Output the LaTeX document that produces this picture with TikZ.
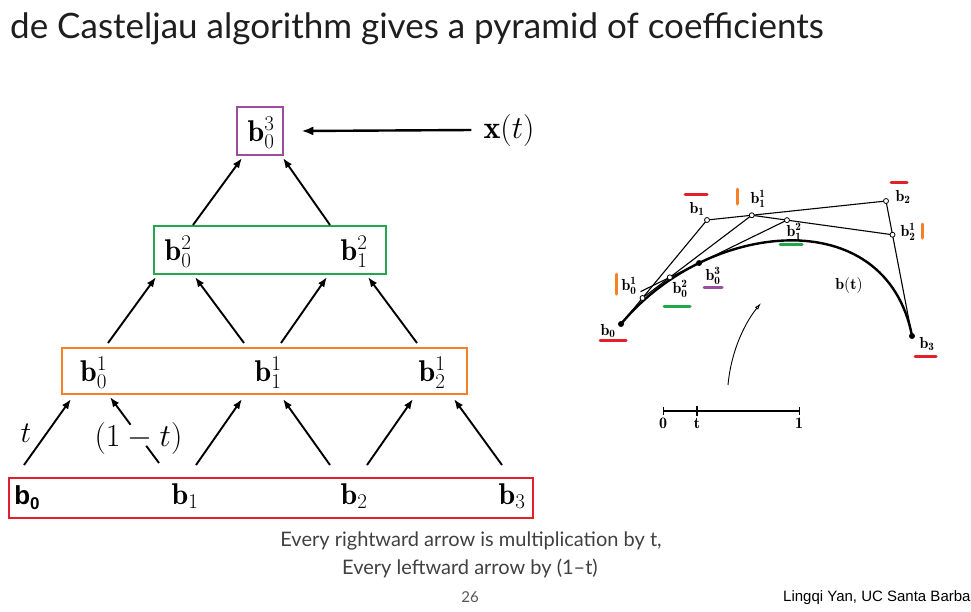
\RequirePackage{fix-cm}
\documentclass[tikz,border=0pt]{standalone}
\usepackage{fontspec}
\usetikzlibrary{arrows.meta,calc}
\newfontfamily\slidefont{Lato}
\newfontfamily\arialfont{Liberation Sans}
\definecolor{cpurple}{HTML}{9B4D9E}
\definecolor{cgreen}{HTML}{22A84A}
\definecolor{corange}{HTML}{F58025}
\definecolor{cred}{HTML}{E3202A}
\definecolor{slidetext}{HTML}{1E1E1E}
\tikzset{
  rowbox/.style={line width=2.6pt, inner sep=0pt},
  mlabel/.style={inner sep=0pt, font=\fontsize{30}{36}\selectfont},
  parrow/.style={line width=1.9pt, -{Latex[length=10pt,width=7.5pt]}},
  pline/.style={line width=1.9pt},
  opt/.style={circle, draw, fill=white, inner sep=0pt, minimum size=5pt, line width=0.8pt},
  fpt/.style={circle, fill=black, inner sep=0pt, minimum size=6pt},
  slab/.style={inner sep=0pt, font=\fontsize{16}{18}\selectfont},
  colmark/.style={line width=3pt, line cap=round},
  poly/.style={line width=1.1pt},
}
\begin{document}
\begin{tikzpicture}[x=1pt,y=-1pt]
\useasboundingbox (0,0) rectangle (971,611);

% title
\node[anchor=west, inner sep=0pt, text=slidetext, font=\slidefont\fontsize{35}{42}\selectfont] (title) at (10,29) {de Casteljau algorithm gives a pyramid of coefficients};

% ---------- pyramid boxes ----------
\node[rowbox, draw=cpurple, minimum width=46pt, minimum height=48pt] (P) at (260,131) {};
\node[rowbox, draw=cgreen, minimum width=232pt, minimum height=48pt] (G) at (270,250) {};
\node[rowbox, draw=corange, minimum width=405pt, minimum height=46pt] (O) at (264.5,371) {};
\node[rowbox, draw=cred, minimum width=524pt, minimum height=40pt] (R) at (271,498) {};

% labels
\node[mlabel] (n03) at (261,133) {$\mathbf{b}_0^3$};
\node[mlabel] (n02) at (178,252) {$\mathbf{b}_0^2$};
\node[mlabel] (n12) at (354,252) {$\mathbf{b}_1^2$};
\node[mlabel] (n01) at (93.5,373) {$\mathbf{b}_0^1$};
\node[mlabel] (n11) at (268,373) {$\mathbf{b}_1^1$};
\node[mlabel] (n21) at (432,373) {$\mathbf{b}_2^1$};
\node[inner sep=0pt, font=\arialfont\bfseries\fontsize{26}{30}\selectfont] (n0) at (27,498) {b\raisebox{-5pt}{\fontsize{17}{20}\selectfont 0}};
\node[mlabel] (n1) at (185,496) {$\mathbf{b}_1$};
\node[mlabel] (n2) at (354,496) {$\mathbf{b}_2$};
\node[mlabel] (n3) at (512,496) {$\mathbf{b}_3$};

\node[mlabel, font=\fontsize{32}{38}\selectfont] (xt) at (509,130) {$\mathbf{x}(t)$};
\draw[line width=2.4pt, -{Latex[length=12pt,width=9pt]}] ([xshift=-12pt]xt.west) -- ([xshift=17pt]P.east);

\node[mlabel] (tlab) at (26,433) {$t$};
\node[mlabel, font=\fontsize{32}{38}\selectfont] (omt) at (138.5,438) {$(1-t)$};

% ---------- pyramid arrows ----------
% level 1 (red -> orange)
\coordinate (r1a) at (24,465);  \coordinate (r1b) at (71,399);
\coordinate (l1a) at (159,463); \coordinate (l1b) at (110,397);
\coordinate (r2a) at (196,465); \coordinate (r2b) at (242,399);
\coordinate (l2a) at (330,465); \coordinate (l2b) at (283,399);
\coordinate (r3a) at (367,465); \coordinate (r3b) at (413,399);
\coordinate (l3a) at (502,465); \coordinate (l3b) at (454,399);
\draw[parrow] (r1a) -- (r1b);
\coordinate (l1g1) at ($(l1a)!0.26!(l1b)$);
\coordinate (l1g2) at ($(l1a)!0.58!(l1b)$);
\draw[pline] (l1a) -- (l1g1);
\draw[parrow] (l1g2) -- (l1b);
\draw[parrow] (r2a) -- (r2b);
\draw[parrow] (l2a) -- (l2b);
\draw[parrow] (r3a) -- (r3b);
\draw[parrow] (l3a) -- (l3b);
% level 2 (orange -> green)
\coordinate (s1a) at (108,343); \coordinate (s1b) at (156,277);
\coordinate (s2a) at (244,343); \coordinate (s2b) at (195,277);
\coordinate (s3a) at (281,343); \coordinate (s3b) at (327,277);
\coordinate (s4a) at (417,343); \coordinate (s4b) at (368,277);
\draw[parrow] (s1a) -- (s1b);
\draw[parrow] (s2a) -- (s2b);
\draw[parrow] (s3a) -- (s3b);
\draw[parrow] (s4a) -- (s4b);
% level 3 (green -> purple)
\coordinate (u1a) at (193,225); \coordinate (u1b) at (242,158);
\coordinate (u2a) at (330,225); \coordinate (u2b) at (283,158);
\draw[parrow] (u1a) -- (u1b);
\draw[parrow] (u2a) -- (u2b);

% ---------- right figure ----------
\coordinate (B0) at (621,324);
\coordinate (B1) at (707,220);
\coordinate (B2) at (886,201);
\coordinate (B3) at (912,336);
\coordinate (B01) at ($(B0)!0.25!(B1)$);
\coordinate (B11) at ($(B1)!0.25!(B2)$);
\coordinate (B21) at ($(B2)!0.25!(B3)$);
\coordinate (B02) at ($(B01)!0.25!(B11)$);
\coordinate (B12) at ($(B11)!0.25!(B21)$);
\coordinate (B03) at ($(B02)!0.25!(B12)$);

\draw[poly] (B0) -- (B1) -- (B2) -- (B3);
\draw[poly] (B01) -- (B11) -- (B21);
\draw[poly] ($(B02)!-0.25!(B12)$) -- (B12);
\draw[line width=2.4pt] (B0) .. controls (B1) and (B2) .. (B3);

\node[fpt] (p0) at (B0) {};
\node[fpt] (p3) at (B3) {};
\node[fpt] (p03) at (B03) {};
\node[opt] (p1) at (B1) {};
\node[opt] (p2) at (B2) {};
\node[opt] (p01) at (B01) {};
\node[opt] (p11) at (B11) {};
\node[opt] (p21) at (B21) {};
\node[opt] (p02) at (B02) {};
\node[opt] (p12) at (B12) {};

\node[slab] (lb0) at (608,331) {$\mathbf{b}_{\mathbf 0}$};
\node[slab] (lb1) at (697,209) {$\mathbf{b}_{\mathbf 1}$};
\node[slab] (lb2) at (903,197) {$\mathbf{b}_{\mathbf 2}$};
\node[slab] (lb3) at (927,344) {$\mathbf{b}_{\mathbf 3}$};
\node[slab] (lb01) at (629,286) {$\mathbf{b}_{\mathbf 0}^{\mathbf 1}$};
\node[slab] (lb11) at (758,199) {$\mathbf{b}_{\mathbf 1}^{\mathbf 1}$};
\node[slab] (lb21) at (908,232) {$\mathbf{b}_{\mathbf 2}^{\mathbf 1}$};
\node[slab] (lb02) at (680,289) {$\mathbf{b}_{\mathbf 0}^{\mathbf 2}$};
\node[slab] (lb12) at (794,232) {$\mathbf{b}_{\mathbf 1}^{\mathbf 2}$};
\node[slab] (lb03) at (713,276) {$\mathbf{b}_{\mathbf 0}^{\mathbf 3}$};
\node[slab] (lbt) at (849,285) {$\mathbf{b(t)}$};

% coloured marks
\draw[colmark, cred] (685,194) -- (707,194);
\draw[colmark, cred] (891,182) -- (907,182);
\draw[colmark, cred] (600,340) -- (626,340);
\draw[colmark, cred] (915,356) -- (936,356);
\draw[colmark, corange] (737,189) -- (737,204);
\draw[colmark, corange] (922,224) -- (922,238);
\draw[colmark, corange] (616,274) -- (616,294);
\draw[colmark, cgreen] (780,244) -- (802,244);
\draw[colmark, cgreen] (664,306) -- (690,306);
\draw[colmark, cpurple] (704,287) -- (722,287);

% small arc arrow
\coordinate (arcA) at (728,385);
\coordinate (arcB) at (761,303);
\draw[line width=0.9pt, -{Latex[open,length=7pt,width=4pt]}] (arcA) .. controls (731,352) and (744,324) .. (arcB);

% axis
\coordinate (ax0) at (663,411);
\coordinate (axt) at (697,411);
\coordinate (ax1) at (799,411);
\draw[line width=1.1pt] (ax0) -- (ax1);
\draw[line width=1pt] ($(ax0)+(0,-4)$) -- ($(ax0)+(0,4)$);
\draw[line width=1.4pt] ($(axt)+(0,-5)$) -- ($(axt)+(0,5)$);
\draw[line width=1pt] ($(ax1)+(0,-4)$) -- ($(ax1)+(0,4)$);
\node[slab] (ax0l) at (663,423) {$\mathbf 0$};
\node[slab] (axtl) at (697,423) {$\mathbf t$};
\node[slab] (ax1l) at (799,423) {$\mathbf 1$};

% bottom text
\node[inner sep=0pt, text=slidetext!85, font=\slidefont\fontsize{20}{24}\selectfont] (cap1) at (471,541) {Every rightward arrow is multiplication by t,};
\node[inner sep=0pt, text=slidetext!85, font=\slidefont\fontsize{20}{24}\selectfont] (cap2) at (470,568) {Every leftward arrow by (1–t)};
\node[inner sep=0pt, text=slidetext!75, font=\slidefont\fontsize{15}{18}\selectfont] (pg) at (470,597) {26};
\node[anchor=west, inner sep=0pt, font=\arialfont\fontsize{15}{18}\selectfont] (foot) at (783,598) {Lingqi Yan, UC Santa Barbara};
\end{tikzpicture}
\end{document}
